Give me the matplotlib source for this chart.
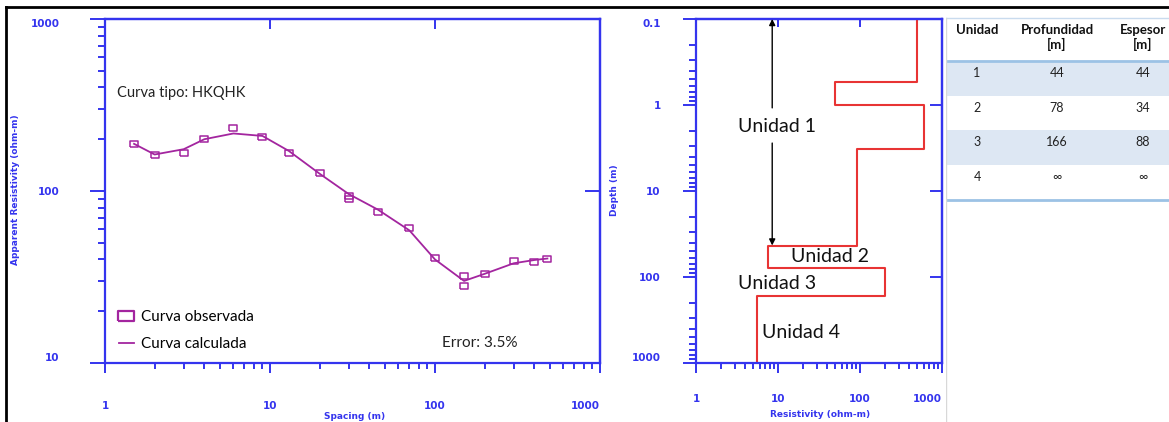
"""
Resistivity sounding: observed vs calculated curve, layered model and unit table
"""
import numpy as np
import matplotlib
matplotlib.use("Agg")
import matplotlib.pyplot as plt
from matplotlib.lines import Line2D
from matplotlib.patches import Rectangle
from matplotlib.ticker import NullLocator

# Observed sounding curve (spacing in m, apparent resistivity in ohm-m)
obs_spacing = [1.5, 2, 3, 4, 6, 9, 13, 20, 30, 30, 45, 70, 100, 150, 150, 200, 300, 400, 480]
obs_rho = [188, 163, 166, 200, 232, 207, 167, 128, 94, 90, 75, 61, 41, 32, 28, 33, 39, 38.5, 40.5]

# Calculated curve
calc_spacing = [1.5, 2, 3, 4, 6, 9, 13, 20, 30, 45, 70, 100, 150, 200, 300, 400, 480]
calc_rho = [188, 163, 175, 200, 216, 209, 171, 126, 96, 78, 59, 40, 30, 33, 38, 39.7, 40.5]

# Layered model (top depth of each layer, resistivity)
layer_top = [0.1, 0.54, 1.0, 3.25, 44, 78, 166]
layer_rho = [500, 49, 600, 91, 7.6, 200, 5.6]
model_bottom = 1000

# Table
col_headers = ["Unidad", "Profundidad\n[m]", "Espesor\n[m]"]
units = ["1", "2", "3", "4"]
depth_col = ["44", "78", "166", "\u221e"]
thick_col = ["44", "34", "88", "\u221e"]

BLUE = "#3434ee"
MAG = "#a3259f"
RED = "#e83434"
TXT = ["Lato", "DejaVu Sans"]

W, H = 1169, 422
fig = plt.figure(figsize=(W / 100, H / 100), dpi=100)


def box(x0, x1, y0=19, y1=363):
    return [x0 / W, 1 - y1 / H, (x1 - x0) / W, (y1 - y0) / H]


rect = [(-1.4, -1), (1.4, -1), (1.4, 1), (-1.4, 1), (-1.4, -1)]

# ---------------- sounding curve ----------------
ax1 = fig.add_axes(box(105, 600))
ax1.set_xscale("log")
ax1.set_yscale("log")
ax1.set_xlim(1, 1000)
ax1.set_ylim(10, 1000)
ax1.plot(calc_spacing, calc_rho, color=MAG, lw=1.3, label="Curva calculada")
ax1.plot(obs_spacing, obs_rho, linestyle="none", marker=rect, ms=5.5, mfc="none",
         mec=MAG, mew=1.1, label="Curva observada")

# ---------------- layered model ----------------
ax2 = fig.add_axes(box(696, 942))
ax2.set_xscale("log")
ax2.set_yscale("log")
ax2.set_xlim(1, 1000)
ax2.set_ylim(1000, 0.1)
bounds = layer_top + [model_bottom]
xs = np.repeat(layer_rho, 2)
ys = np.column_stack([bounds[:-1], bounds[1:]]).ravel()
ax2.plot(xs, ys, color=RED, lw=1.5)

for ax in (ax1, ax2):
    for sp in ax.spines.values():
        sp.set_color(BLUE)
        sp.set_linewidth(1.6)
    ax.tick_params(which="both", colors=BLUE, width=1.4, top=False, right=False,
                   direction="out")

ax1.tick_params(axis="y", which="major", length=10.8, pad=22)
ax1.tick_params(axis="y", which="minor", length=5)
ax1.tick_params(axis="x", which="major", length=7.2, pad=20)
ax1.tick_params(axis="x", which="minor", length=4.3)
ax2.tick_params(axis="y", which="major", length=9.4, pad=16)
ax2.tick_params(axis="y", which="minor", length=5)
ax2.tick_params(axis="x", which="major", length=7.2, pad=15)
ax2.tick_params(axis="x", which="minor", length=4.3)

lab_kw = dict(fontsize=7.5, fontweight="bold", color=BLUE, family="DejaVu Sans")
ax1.set_xticks([1, 10, 100, 1000], labels=["1", "10", "100", "1000"], **lab_kw)
ax1.set_yticks([10, 100, 1000], labels=["10", "100", "1000"], **lab_kw)
ax2.set_xticks([1, 10, 100, 1000], labels=["1", "10", "100", "1000"], **lab_kw)
ax2.set_yticks([0.1, 1, 10, 100, 1000], labels=["0.1", "1", "10", "100", "1000"], **lab_kw)
for ax in (ax1, ax2):
    ylabs = ax.get_yticklabels()
    top_lab = ylabs[-1] if ax is ax1 else ylabs[0]
    bot_lab = ylabs[0] if ax is ax1 else ylabs[-1]
    top_lab.set_va("top")
    bot_lab.set_va("bottom")
    ax.get_xticklabels()[-1].set_ha("right")

# inward ticks on top / right
for ax, top_t, right_t, tl, rl in ((ax1, [10, 100], [100], 7.2, 10.8),
                                   (ax2, [10, 100], [1, 10, 100], 5.8, 8.6)):
    sx = ax.secondary_xaxis("top")
    sx.set_xticks(top_t, labels=[])
    sx.xaxis.set_minor_locator(NullLocator())
    sx.tick_params(direction="in", length=tl, width=1.4, color=BLUE)
    sx.spines["top"].set_color(BLUE)
    sx.spines["top"].set_linewidth(1.6)
    sy = ax.secondary_yaxis("right")
    sy.set_yticks(right_t, labels=[])
    sy.yaxis.set_minor_locator(NullLocator())
    sy.tick_params(direction="in", length=rl, width=1.4, color=BLUE)
    sy.spines["right"].set_color(BLUE)
    sy.spines["right"].set_linewidth(1.6)

axlab_kw = dict(fontsize=6.5, fontweight="bold", color=BLUE, family="DejaVu Sans")
ax1.set_xlabel("Spacing (m)", **axlab_kw)
ax1.xaxis.set_label_coords(0.505, -0.142)
ax1.set_ylabel("Apparent Resistivity (ohm-m)", **axlab_kw)
ax1.yaxis.set_label_coords(-0.172, 0.503)
ax2.set_xlabel("Resistivity (ohm-m)", **axlab_kw)
ax2.xaxis.set_label_coords(0.504, -0.137)
ax2.set_ylabel("Depth (m)", **axlab_kw)
ax2.yaxis.set_label_coords(-0.313, 0.503)

ax1.text(1.18, 372, "Curva tipo: HKQHK", family=TXT, fontsize=10.5, color="#222222",
         va="center")
ax1.text(187, 13.1, "Error: 3.5%", family=TXT, fontsize=11, color="#222222",
         ha="center", va="center")
handles = [Line2D([], [], linestyle="none", marker=rect, ms=11, mfc="none", mec=MAG, mew=1.6),
           Line2D([], [], color=MAG, lw=1.3)]
ax1.legend(handles, ["Curva observada", "Curva calculada"], loc="lower left",
           bbox_to_anchor=(0.0, -0.005), frameon=False, handlelength=1.0,
           handletextpad=0.45, labelspacing=0.85, prop={"family": TXT, "size": 11})

# arrows + unit labels on the model
ax2.annotate("", xy=(8.5, 0.1), xytext=(8.5, 1.08),
             arrowprops=dict(arrowstyle="-|>", color="black", lw=1, shrinkA=0, shrinkB=0,
                             mutation_scale=9), annotation_clip=False)
ax2.annotate("", xy=(8.5, 43), xytext=(8.5, 2.77),
             arrowprops=dict(arrowstyle="-|>", color="black", lw=1, shrinkA=0, shrinkB=0,
                             mutation_scale=9))
unit_kw = dict(family=TXT, fontsize=14, color="#111111", ha="center", va="center")
ax2.text(9.8, 1.8, "Unidad 1", **unit_kw)
ax2.text(43, 57, "Unidad 2", **unit_kw)
ax2.text(9.8, 120, "Unidad 3", **unit_kw)
ax2.text(19.2, 440, "Unidad 4", **unit_kw)

# ---------------- table ----------------
ax3 = fig.add_axes([946 / W, 0, (W - 946) / W, 1])
ax3.set_xlim(946, W)
ax3.set_ylim(H, 0)
ax3.axis("off")
col_x = [977, 1057, 1143]
row_edges = [61, 96, 130, 165, 200]
for i in range(4):
    if i % 2 == 0:
        ax3.add_patch(Rectangle((946, row_edges[i]), W - 946, row_edges[i + 1] - row_edges[i],
                                facecolor="#dde7f3", edgecolor="none"))
ax3.plot([946, W], [61, 61], color="#9cc2e5", lw=2)
ax3.plot([946, W], [200, 200], color="#9cc2e5", lw=2)
ax3.plot([946, W], [18, 18], color="#c9dbee", lw=1)
ax3.plot([946, 946], [18, H], color="#d8d8d8", lw=1)
for x, h in zip(col_x, col_headers):
    ax3.text(x, 24, h, family=TXT, fontsize=9.5, fontweight="bold", color="#111111",
             ha="center", va="top", linespacing=1.2)
for i in range(4):
    ty = row_edges[i] + 12
    for x, v in zip(col_x, [units[i], depth_col[i], thick_col[i]]):
        ax3.text(x, ty, v, family=TXT, fontsize=9, color="#222222", ha="center", va="center")

# outer black frame (top and left)
fig.add_artist(Line2D([6 / W, 1], [1 - 7 / H, 1 - 7 / H], color="black", lw=2,
                      transform=fig.transFigure))
fig.add_artist(Line2D([6 / W, 6 / W], [0, 1 - 7 / H], color="black", lw=2,
                      transform=fig.transFigure))

fig.savefig("out.png", dpi=100)
